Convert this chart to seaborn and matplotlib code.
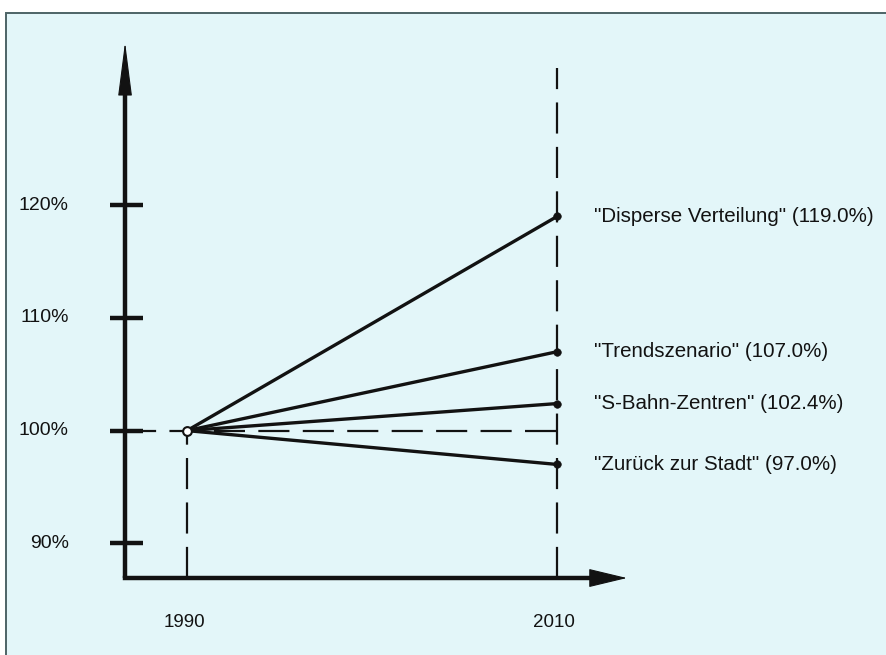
import pandas as pd
import seaborn as sns
import matplotlib.pyplot as plt
from matplotlib.patches import Rectangle

# data
years = [1990, 2010]
scenarios = ['"Disperse Verteilung"', '"Trendszenario"', '"S-Bahn-Zentren"', '"Zurück zur Stadt"']
start_values = [100.0, 100.0, 100.0, 100.0]
end_values = [119.0, 107.0, 102.4, 97.0]
ytick_values = [90, 100, 110, 120]
ytick_labels = ['90%', '100%', '110%', '120%']
xtick_labels = ['1990', '2010']

rows = []
for name, a, b in zip(scenarios, start_values, end_values):
    rows.append({'year': years[0], 'value': a, 'scenario': name})
    rows.append({'year': years[1], 'value': b, 'scenario': name})
df = pd.DataFrame(rows)

sns.set_theme(style='white')
plt.rcParams['font.family'] = ['Liberation Sans', 'DejaVu Sans']

fig = plt.figure(figsize=(8.87, 6.55), dpi=100)
fig.patch.set_facecolor('white')
# scanned page background with frame on top and left
fig.patches.append(Rectangle((6 / 887, -0.05), 1.5, 1 - 13 / 655 + 0.05, transform=fig.transFigure,
                             facecolor='#e3f6f9', edgecolor='#4d6466', lw=1.4, zorder=-1))

ax = fig.add_axes([0, 0, 1, 1])
ax.set_zorder(2)
ax.set_facecolor('none')

ink = '#121212'
x_origin, y_origin = 1986.65, 86.92
x_tip, y_tip = 2013.78, 134.48

# axes with arrow heads
ax.plot([x_origin, x_origin], [y_origin, y_tip - 3], color=ink, lw=3.2, solid_capstyle='butt')
ax.plot([x_origin, x_tip - 1.5], [y_origin, y_origin], color=ink, lw=3.2, solid_capstyle='projecting')
ax.annotate('', xy=(x_origin, y_tip), xytext=(x_origin, y_tip - 5),
            arrowprops=dict(arrowstyle='-|>,head_length=3.5,head_width=0.45', color=ink, lw=0.8,
                            mutation_scale=10, shrinkA=0, shrinkB=0))
ax.annotate('', xy=(x_tip, y_origin), xytext=(x_tip - 2.5, y_origin),
            arrowprops=dict(arrowstyle='-|>,head_length=2.5,head_width=0.6', color=ink, lw=0.8,
                            mutation_scale=10, shrinkA=0, shrinkB=0))

# y ticks and labels
for v, lab in zip(ytick_values, ytick_labels):
    ax.plot([x_origin - 0.8, x_origin + 0.95], [v, v], color=ink, lw=3.2, solid_capstyle='butt')
    ax.text(1983.6, v, lab, ha='right', va='center', fontsize=14, color=ink)

# year labels
for yr, lab in zip(years, xtick_labels):
    ax.text(yr - 0.15, 83.0, lab, ha='center', va='center', fontsize=13.5, color=ink)

# dashed guide lines
dash = (0, (14, 6))
ax.plot([x_origin, years[1]], [start_values[0], start_values[0]], color=ink, lw=1.6, linestyle=dash)
ax.plot([years[0], years[0]], [y_origin, start_values[0]], color=ink, lw=1.6, linestyle=dash)
ax.plot([years[1], years[1]], [y_origin, 132.17], color=ink, lw=1.6, linestyle=dash)

# scenario lines
sns.lineplot(data=df, x='year', y='value', hue='scenario', palette={s: ink for s in scenarios},
             lw=2.4, legend=False, ax=ax, zorder=3)
ends = df[df['year'] == years[1]]
sns.scatterplot(data=ends, x='year', y='value', color=ink, s=30, edgecolor=ink, ax=ax, zorder=4)
ax.scatter([years[0]], [start_values[0]], s=40, facecolor='white', edgecolor=ink, lw=1.5, zorder=5)

for name, v in zip(scenarios, end_values):
    ax.text(2012.0, v, f'{name} ({v:.1f}%)', ha='left', va='center', fontsize=14.8, color=ink)

ax.set_xlim(1979.89, 2027.84)
ax.set_ylim(80.09, 138.21)
ax.axis('off')
fig.savefig('out.png', dpi=100)
